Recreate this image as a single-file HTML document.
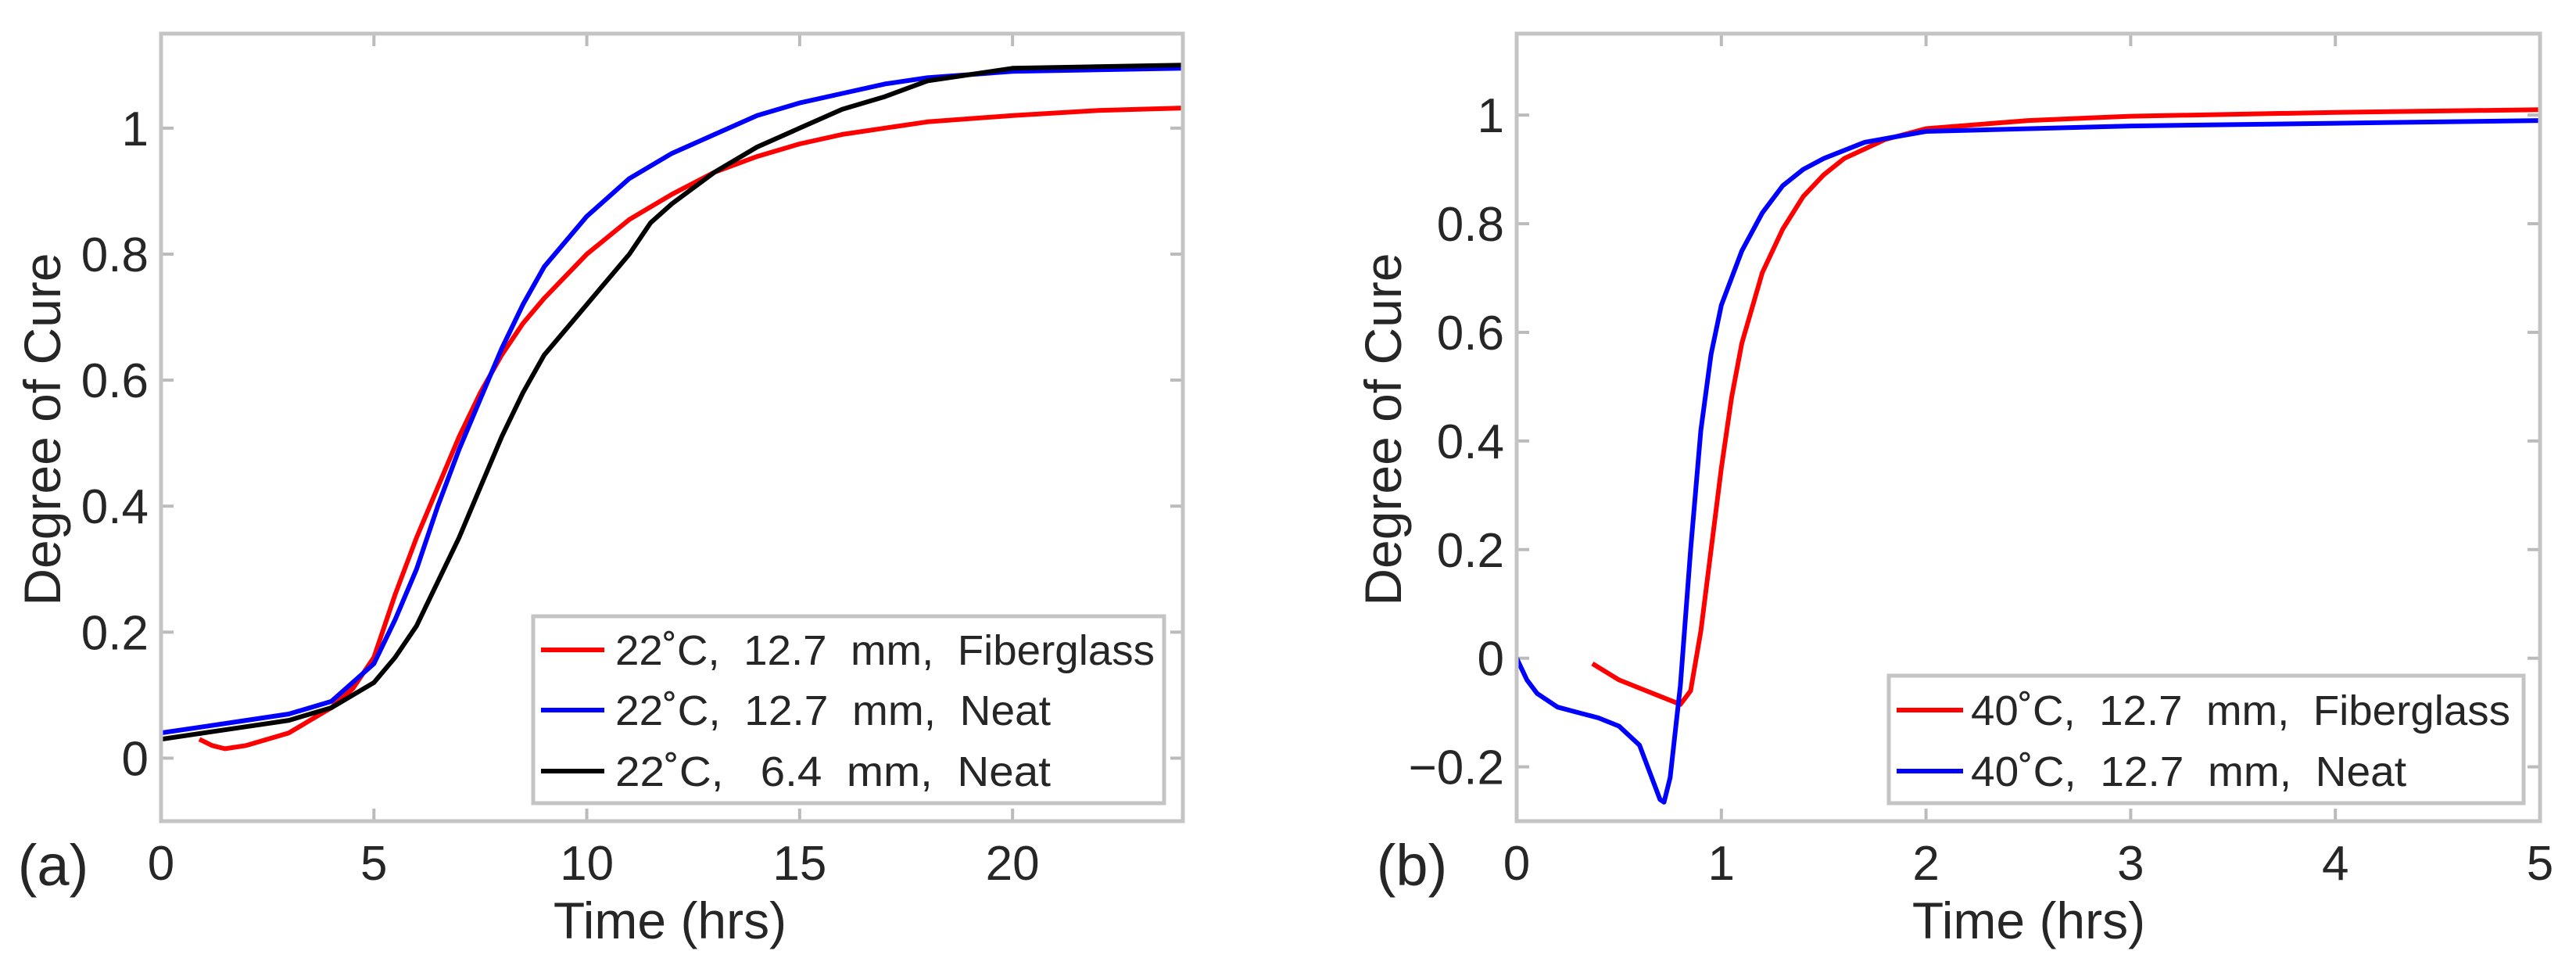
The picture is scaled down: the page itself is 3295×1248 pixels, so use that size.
<!DOCTYPE html>
<html><head><meta charset="utf-8"><style>
html,body{margin:0;padding:0;background:#fff;}
svg{display:block;font-family:"Liberation Sans",Arial,sans-serif;}
.pre{white-space:pre;}
</style></head><body>
<svg id="fig" width="3295" height="1248" viewBox="0 0 3295 1248" xmlns="http://www.w3.org/2000/svg"></svg>
<script>
// Panel (a) data
const aRedX = [0.9,1.2,1.5,2,2.5,3,3.5,4,4.5,5,5.5,6,6.5,7,7.5,8,8.5,9,10,11,12,13,14,15,16,17,18,20,22,24];
const aRedY = [0.03,0.02,0.015,0.02,0.03,0.04,0.06,0.08,0.11,0.16,0.26,0.35,0.43,0.51,0.58,0.64,0.69,0.73,0.80,0.855,0.895,0.93,0.955,0.975,0.99,1.0,1.01,1.02,1.028,1.032];
const aBlueX = [0,1,2,3,4,4.5,5,5.5,6,6.5,7,7.5,8,8.5,9,10,11,12,13,14,15,16,17,18,20,24];
const aBlueY = [0.04,0.05,0.06,0.07,0.09,0.12,0.15,0.22,0.30,0.40,0.49,0.57,0.65,0.72,0.78,0.86,0.92,0.96,0.99,1.02,1.04,1.055,1.07,1.08,1.09,1.095];
const aBlackX = [0,1,2,3,4,5,5.5,6,6.5,7,7.5,8,8.5,9,10,11,11.5,12,13,14,15,16,17,18,19,20,24];
const aBlackY = [0.03,0.04,0.05,0.06,0.08,0.12,0.16,0.21,0.28,0.35,0.43,0.51,0.58,0.64,0.72,0.80,0.85,0.88,0.93,0.97,1.0,1.03,1.05,1.075,1.085,1.095,1.1];
const aXTicks = [0,5,10,15,20];
const aYTicks = [0,0.2,0.4,0.6,0.8,1];
const aYTickLabels = ["0","0.2","0.4","0.6","0.8","1"];
const aLegend = ["22\u02DAC,  12.7  mm,  Fiberglass","22\u02DAC,  12.7  mm,  Neat","22\u02DAC,   6.4  mm,  Neat"];
// Panel (b) data
const bRedX = [0.37,0.5,0.6,0.7,0.8,0.85,0.9,0.95,1.0,1.05,1.1,1.2,1.3,1.4,1.5,1.6,1.8,2.0,2.5,3,4,5];
const bRedY = [-0.01,-0.04,-0.055,-0.07,-0.085,-0.06,0.05,0.2,0.35,0.48,0.58,0.71,0.79,0.85,0.89,0.92,0.955,0.975,0.99,0.998,1.005,1.01];
const bBlueX = [0,0.05,0.1,0.2,0.3,0.4,0.5,0.6,0.65,0.7,0.72,0.75,0.8,0.85,0.9,0.95,1.0,1.1,1.2,1.3,1.4,1.5,1.7,2.0,3,4,5];
const bBlueY = [0,-0.04,-0.065,-0.09,-0.1,-0.11,-0.125,-0.16,-0.21,-0.26,-0.265,-0.22,-0.05,0.2,0.42,0.56,0.65,0.75,0.82,0.87,0.9,0.92,0.95,0.97,0.98,0.985,0.99];
const bXTicks = [0,1,2,3,4,5];
const bYTicks = [-0.2,0,0.2,0.4,0.6,0.8,1];
const bYTickLabels = ["\u22120.2","0","0.2","0.4","0.6","0.8","1"];
const bLegend = ["40\u02DAC,  12.7  mm,  Fiberglass","40\u02DAC,  12.7  mm,  Neat"];

const NS="http://www.w3.org/2000/svg";
const svg=document.getElementById('fig');
function mk(tag,attrs,parent){const e=document.createElementNS(NS,tag);for(const k in attrs)e.setAttribute(k,attrs[k]);(parent||svg).appendChild(e);return e;}

function panel(cfg){
  const g=mk('g',{});
  
  
  const sx=v=>cfg.x0+(v-cfg.xmin)/(cfg.xmax-cfg.xmin)*(cfg.x1-cfg.x0);
  const sy=v=>cfg.y1-(v-cfg.ymin)/(cfg.ymax-cfg.ymin)*(cfg.y1-cfg.y0);
  cfg.xt.forEach(t=>{
    const x=sx(t);
    mk('line',{x1:x,y1:cfg.y1,x2:x,y2:cfg.y1-16,stroke:'#bbb','stroke-width':4},g);
    mk('line',{x1:x,y1:cfg.y0,x2:x,y2:cfg.y0+16,stroke:'#bbb','stroke-width':4},g);
    const tl=mk('text',{x:x,y:cfg.y1+75,'font-size':62,'text-anchor':'middle',fill:'#262626'},g);
    tl.textContent=String(t);
    
    
  });
  cfg.yt.forEach((t,i)=>{
    const y=sy(t);
    mk('line',{x1:cfg.x0,y1:y,x2:cfg.x0+16,y2:y,stroke:'#bbb','stroke-width':4},g);
    mk('line',{x1:cfg.x1,y1:y,x2:cfg.x1-16,y2:y,stroke:'#bbb','stroke-width':4},g);
    const tl=mk('text',{x:cfg.x0-16,y:y+22,'font-size':62,'text-anchor':'end',fill:'#262626'},g);
    tl.textContent=cfg.ytl[i];
    
    
  });
  const clip='clip-'+cfg.name;
  const cp=mk('clipPath',{id:clip},g);
  mk('rect',{x:cfg.x0,y:cfg.y0,width:cfg.x1-cfg.x0,height:cfg.y1-cfg.y0},cp);
  cfg.series.forEach(s=>{
    const d=s.x.map((v,i)=>(i?'L':'M')+sx(v).toFixed(1)+' '+sy(s.y[i]).toFixed(1)).join(' ');
    const p=mk('path',{d:d,fill:'none',stroke:s.color,'stroke-width':6,'stroke-linejoin':'round','clip-path':'url(#'+clip+')'},g);
    
    
  });
  const fr=mk('rect',{x:cfg.x0,y:cfg.y0,width:cfg.x1-cfg.x0,height:cfg.y1-cfg.y0,fill:'none',stroke:'#c4c4c4','stroke-width':5},g);
  
  
  const L=cfg.leg;
  const lb=mk('rect',{x:L.x0,y:L.y0,width:L.x1-L.x0,height:L.y1-L.y0,fill:'#fff',stroke:'#c4c4c4','stroke-width':5},g);
  
  
  cfg.legText.forEach((txt,i)=>{
    const y=L.rows[i];
    mk('line',{x1:L.lx0,y1:y,x2:L.lx1,y2:y,stroke:cfg.series[i].color,'stroke-width':6},g);
    const t=mk('text',{x:L.tx,y:y+19,'font-size':54,fill:'#262626',class:'pre',textLength:L.tw[i],lengthAdjust:'spacingAndGlyphs'},g);
    t.textContent=txt;
    
    
  });
  const xl=mk('text',{x:cfg.xlx,y:1200,'font-size':66,'text-anchor':'middle',fill:'#262626'},g);
  xl.textContent='Time (hrs)';
  
  
  const yl=mk('text',{x:0,y:0,'font-size':66,'text-anchor':'middle',fill:'#262626',transform:'translate('+(cfg.ylx+24)+',549) rotate(-90)'},g);
  yl.textContent='Degree of Cure';
  
  
  const pl=mk('text',{x:cfg.plx,y:1132,'font-size':74,'text-anchor':'middle',fill:'#262626'},g);
  pl.textContent=cfg.plabel;
  
  
}

panel({name:'panel-a',x0:206,x1:1513,y0:43,y1:1050,xmin:0,xmax:24,ymin:-0.1,ymax:1.15,
  xt:aXTicks,yt:aYTicks,ytl:aYTickLabels,
  series:[{x:aRedX,y:aRedY,color:'#ff0000',name:'series-22c-fiberglass'},{x:aBlueX,y:aBlueY,color:'#0000ff',name:'series-22c-12mm-neat'},{x:aBlackX,y:aBlackY,color:'#000000',name:'series-22c-6mm-neat'}],
  leg:{x0:682,x1:1489,y0:788,y1:1027,rows:[831,908,986],lx0:692,lx1:773,tx:787,tw:[690,557,557]},
  legText:aLegend,xlx:857,ylx:53,plx:68,plabel:'(a)'});
panel({name:'panel-b',x0:1940,x1:3249,y0:43,y1:1050,xmin:0,xmax:5,ymin:-0.3,ymax:1.15,
  xt:bXTicks,yt:bYTicks,ytl:bYTickLabels,
  series:[{x:bRedX,y:bRedY,color:'#ff0000',name:'series-40c-fiberglass'},{x:bBlueX,y:bBlueY,color:'#0000ff',name:'series-40c-neat'}],
  leg:{x0:2416,x1:3228,y0:864,y1:1027,rows:[908,986],lx0:2426,lx1:2511,tx:2521,tw:[690,557]},
  legText:bLegend,xlx:2595,ylx:1768,plx:1806,plabel:'(b)'});
</script>
</body></html>
